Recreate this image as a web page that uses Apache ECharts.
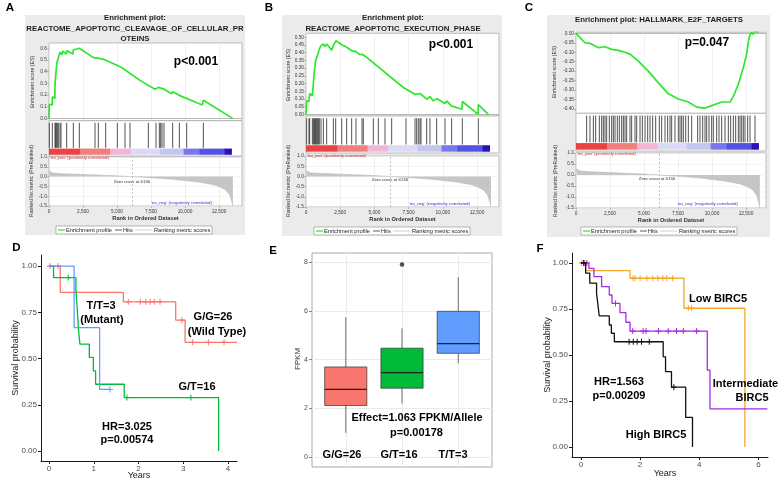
<!DOCTYPE html>
<html>
<head>
<meta charset="utf-8">
<script src="https://cdn.jsdelivr.net/npm/echarts@6.0.0/dist/echarts.min.js"></script>
<style>
html,body{margin:0;padding:0;background:#ffffff;}
#chart{width:778px;height:480px;}
</style>
</head>
<body>
<div id="chart"></div>
<script>
// ================= DATA =================
// --- GSEA (panels A, B, C) ---
const rankTicks = [0, 2500, 5000, 7500, 10000, 12500];
const rankedTicks = [-1.5, -1.0, -0.5, 0, 0.5, 1.0];
const esTicksA = [0, 0.1, 0.2, 0.3, 0.4, 0.5, 0.6];
const esTicksB = [0, 0.05, 0.10, 0.15, 0.20, 0.25, 0.30, 0.35, 0.40, 0.45, 0.50];
const esTicksC = [0, -0.05, -0.10, -0.15, -0.20, -0.25, -0.30, -0.35, -0.40];

const titleA = ['Enrichment plot:', 'REACTOME_APOPTOTIC_CLEAVAGE_OF_CELLULAR_PR', 'OTEINS'];
const titleB = ['Enrichment plot:', 'REACTOME_APOPTOTIC_EXECUTION_PHASE'];
const titleC = ['Enrichment plot: HALLMARK_E2F_TARGETS'];
const pValA = 'p<0.001';
const pValB = 'p<0.001';
const pValC = 'p=0.047';

const esA = [[0,0],[25,0.12],[240,0.115],[245,0.185],[435,0.17],[441,0.29],[515,0.40],[590,0.48],[700,0.49],[809,0.565],[960,0.545],[1000,0.575],[1280,0.55],[1299,0.58],[1760,0.55],[1789,0.585],[2230,0.60],[3260,0.52],[3382,0.53],[3600,0.515],[3627,0.52],[4150,0.50],[4240,0.51],[5340,0.435],[6690,0.325],[7790,0.25],[8040,0.265],[8460,0.25],[9020,0.21],[9093,0.228],[9580,0.197],[9700,0.21],[11270,0.115],[11348,0.155],[13500,0]];
const hitsA = [25,245,441,490,539,613,686,809,882,1299,1789,2230,3382,3627,4167,5025,5588,5956,7304,7868,8113,8211,8309,8456,9093,9583,10122,11348];

const esB = [[0,0],[49,0.087],[219,0.083],[268,0.135],[463,0.12],[536,0.196],[609,0.28],[707,0.35],[853,0.387],[975,0.424],[1097,0.446],[1267,0.456],[1389,0.44],[1511,0.456],[1877,0.417],[1998,0.446],[2193,0.478],[2607,0.452],[2973,0.435],[3338,0.413],[3655,0.407],[3947,0.387],[4094,0.39],[4435,0.37],[7115,0.174],[7968,0.13],[8333,0.135],[8821,0.098],[9064,0.115],[9308,0.087],[9552,0.102],[10161,0.07],[10283,0.087],[10620,0.055],[10648,0.065],[11400,0.033],[11428,0.083],[12580,0.0],[12597,0.063],[13330,0]];
const hitsB = [49,219,268,463,536,609,658,707,780,853,902,975,1097,1267,1511,1998,2169,2607,2973,3338,3655,4094,4191,4922,5288,5775,6262,7310,7968,8090,8211,8333,8406,8821,9064,9552,10161,10648,11428,12597];

const esC = [[0,0],[294,-0.023],[662,-0.05],[784,-0.04],[1029,-0.053],[1642,-0.076],[2132,-0.071],[2623,-0.085],[3113,-0.09],[3603,-0.1],[3971,-0.11],[4583,-0.147],[5319,-0.2],[6054,-0.262],[6789,-0.32],[7524,-0.347],[8260,-0.363],[8873,-0.39],[9485,-0.395],[9975,-0.382],[10711,-0.363],[11324,-0.363],[11569,-0.333],[11936,-0.27],[12304,-0.18],[12549,-0.11],[12721,-0.023],[12868,0.004],[13040,-0.005],[13162,0.016],[13358,0.004]];
const hitsC = [784,1029,1275,1446,1716,1887,2010,2132,2255,2451,2623,2745,2868,3039,3186,3358,3480,3603,3725,3971,4093,4338,4461,4706,4877,5074,5270,5441,5637,5858,6127,6299,6544,6740,6912,7034,7279,7524,7647,7770,7892,8064,8260,8505,8946,9118,9314,9485,9608,9779,9975,10098,10343,10515,10711,10956,11201,11373,11569,11740,11936,12059,12181,12304,12426,12623,12794,13162];

const rankedMetric = [[0,0.28],[50,0.22],[300,0.18],[1000,0.15],[2500,0.11],[4000,0.07],[5000,0.04],[6156,0],[7500,-0.06],[9000,-0.13],[10000,-0.2],[11000,-0.28],[12000,-0.4],[12500,-0.5],[13000,-0.68],[13300,-0.95],[13450,-1.3],[13520,-1.5]];
const zeroCross = 6156;
const colorBarEdges = [0, 2300, 4500, 6000, 8150, 9900, 11050, 12900, 13420];

// --- Kaplan-Meier D ---
const kmYTicks = [0, 0.25, 0.5, 0.75, 1];
const dXTicks = [0, 1, 2, 3, 4];
const kmD_GG = [[0,1],[0.25,0.858],[1.66,0.807],[2.83,0.708],[3.04,0.588],[4.2,0.588]];
const kmD_GT = [[0,1],[0.1,0.9375],[0.6,0.87],[0.62,0.80],[0.64,0.73],[0.66,0.65],[0.69,0.578],[0.9,0.506],[0.99,0.433],[1.04,0.361],[1.68,0.289],[3.79,0]];
const kmD_TT = [[0,1],[0.56,0.667],[1.13,0.333],[1.36,0.333]];
const censD_GG = [[0.02,1],[0.2,1],[1.77,0.807],[2.04,0.807],[2.16,0.807],[2.26,0.807],[2.35,0.807],[2.48,0.807],[2.97,0.708],[3.21,0.588],[3.56,0.588],[3.91,0.588]];
const censD_GT = [[0.43,0.9375],[1.74,0.289],[3.17,0.289]];
const censD_TT = [[1.36,0.333]];
const labelsD = ['T/T=3', '(Mutant)', 'G/G=26', '(Wild Type)', 'G/T=16', 'HR=3.025', 'p=0.00574'];

// --- Boxplot E ---
const boxCats = ['G/G=26', 'G/T=16', 'T/T=3'];
const boxLow = [1.0, 2.2, 3.85];
const boxQ1 = [2.12, 2.83, 4.26];
const boxMed = [2.78, 3.47, 4.66];
const boxQ3 = [3.70, 4.47, 5.98];
const boxHigh = [5.74, 5.28, 7.38];
const boxOutliers = [[2, 7.9]];
const eYTicks = [0, 2, 4, 6, 8];
const labelsE = ['Effect=1.063 FPKM/Allele', 'p=0.00178'];

// --- Kaplan-Meier F ---
const fXTicks = [0, 2, 4, 6];
const kmF_Low = [[0,1],[0.16,0.958],[1.66,0.917],[3.48,0.754],[5.54,0]];
const kmF_Int = [[0,1],[0.27,0.97],[0.44,0.926],[0.7,0.871],[0.96,0.826],[1.05,0.78],[1.32,0.73],[1.52,0.678],[1.66,0.63],[4.27,0.418],[4.36,0.207],[6.3,0.207]];
const kmF_High = [[0,1],[0.16,0.945],[0.3,0.89],[0.53,0.835],[0.57,0.78],[0.62,0.712],[0.96,0.663],[1.03,0.618],[1.13,0.572],[2.78,0.49],[2.86,0.41],[3.06,0.325],[3.54,0.161],[3.77,0]];
const censF_Low = [[0.03,1],[0.1,1],[1.76,0.917],[1.83,0.917],[2.0,0.917],[2.23,0.917],[2.43,0.917],[2.6,0.917],[2.77,0.917],[2.9,0.917],[3.1,0.917],[3.63,0.754],[3.74,0.754]];
const censF_Int = [[0.1,1],[0.2,1],[1.17,0.78],[1.75,0.63],[2.1,0.63],[2.2,0.63],[2.62,0.63],[2.95,0.63],[3.23,0.63],[3.46,0.63],[3.91,0.63]];
const censF_High = [[0.1,1],[1.63,0.572],[1.77,0.572],[1.9,0.572],[2.05,0.572],[2.31,0.572],[3.14,0.325]];
const labelsF = ['Low BIRC5', 'Intermediate', 'BIRC5', 'High BIRC5', 'HR=1.563', 'p=0.00209'];

// ================= STYLES / LAYOUT =================
const FONT = "'Liberation Sans', Arial, sans-serif";
const colorBarColors = ['#ec4242','#f17d7d','#f3b7d5','#dadaf7','#c5c5f2','#7878ee','#5252e3','#2512bb'];
const colD = ['#F8766D', '#00BA38', '#619CFF'];
const colE = ['#F8766D', '#00BA38', '#619CFF'];
const colF = ['#F5A623', '#A52AE8', '#111111'];

const LAY = {
  A: {bg:[25,15,220,220], letter:[10,8], tcx:135, tys:[18,29,39], p:[196,62], left:49, width:193, xMax:14190,
      esTop:43, esH:77.7, yMin:-0.02, yMax:0.645, hitsH:35.3, rkTop:157, rkH:49,
      esName:[33,82], rkName:[32,181], xName:[145.5,218], legend:[56,226], naPos:[50,157.5], naNeg:[212,203], zc:[132,182]},
  B: {bg:[282,15,220,221], letter:[269,8], tcx:393, tys:[17.5,29], p:[451,45], left:306, width:193, xMax:14108,
      esTop:33.3, esH:82.7, yMin:-0.011, yMax:0.526, hitsH:37, rkTop:156, rkH:51,
      esName:[289,75], rkName:[289,181], xName:[402.5,219], legend:[314,227], naPos:[307,156], naNeg:[470,204], zc:[390,180]},
  C: {bg:[547,15,223,222], letter:[529,8], tcx:659, tys:[20], p:[707,43], left:576, width:190, xMax:13970,
      esTop:32.3, esH:81, yMin:-0.4227, yMax:0.0053, hitsH:37.7, rkTop:153, rkH:55,
      esName:[555,72], rkName:[556,181], xName:[671,220], legend:[581,227], naPos:[577,153.5], naNeg:[738,204], zc:[657,179]}
};

const G = [];
function T(x, y, text, size, o) {
  o = o || {};
  G.push({type:'text', x:x, y:y, z:100, silent:true, rotation:o.rot || 0,
    style:{text:text, fontFamily:FONT, fontSize:size, fontWeight:o.bold ? 'bold' : 'normal',
      fill:o.color || '#000', textAlign:o.align || 'center', align:o.align || 'center',
      textVerticalAlign:'middle', verticalAlign:'middle'}});
}
function R(x, y, w, h, fill, stroke, lw, z) {
  G.push({type:'rect', z:z, silent:true, shape:{x:x, y:y, width:w, height:h},
    style:{fill:fill, stroke:stroke || null, lineWidth:lw || 0}});
}
function L(x1, y1, x2, y2, stroke, lw) {
  G.push({type:'line', z:101, silent:true, shape:{x1:x1, y1:y1, x2:x2, y2:y2}, style:{stroke:stroke, lineWidth:lw}});
}

const option = {animation:false, backgroundColor:'#ffffff', grid:[], xAxis:[], yAxis:[], series:[], graphic:{elements:G}};
function addGrid(g, xa, ya) {
  const i = option.grid.length;
  option.grid.push(g);
  option.xAxis.push(Object.assign({gridIndex:i}, xa));
  option.yAxis.push(Object.assign({gridIndex:i}, ya));
  return i;
}
const tiny = {fontSize:4.8, color:'#3a3a3a', fontFamily:FONT};
const tickLS = {color:'#8a8a8a', width:0.5};

function buildGsea(P, letter, title, pText, es, hits, esTicks, dec) {
  R(P.bg[0], P.bg[1], P.bg[2], P.bg[3], '#ebebeb', null, 0, -50);
  T(P.letter[0], P.letter[1], letter, 11.5, {bold:true});
  title.forEach((t, i) => T(P.tcx, P.tys[i], t, 7.8, {bold:true, color:'#1e1e1e'}));
  T(P.p[0], P.p[1], pText, 12, {bold:true});
  const border = {show:true, backgroundColor:'#ffffff', borderColor:'#a3a3a3', borderWidth:0.7};
  // ES plot
  const gE = addGrid(Object.assign({left:P.left, top:P.esTop, width:P.width, height:P.esH}, border),
    {type:'value', min:0, max:P.xMax, axisLine:{show:false, onZero:false}, axisTick:{show:false, customValues:rankTicks},
     axisLabel:{show:false}, splitLine:{show:true, lineStyle:{color:'#e6e6e6', width:0.6}}},
    {type:'value', min:P.yMin, max:P.yMax, axisLine:{show:false, onZero:false},
     axisTick:{show:true, customValues:esTicks, length:2, lineStyle:tickLS},
     axisLabel:Object.assign({customValues:esTicks, formatter:v => v.toFixed(dec), margin:2}, tiny),
     splitLine:{show:false}});
  option.series.push({type:'line', xAxisIndex:gE, yAxisIndex:gE, data:es, showSymbol:false, symbol:'none', silent:true, z:5,
    lineStyle:{color:'#2fe52f', width:1.7},
    markLine:{silent:true, symbol:'none', label:{show:false}, lineStyle:{color:'#8a8a8a', width:0.6, type:'solid'}, data:[{yAxis:0}]}});
  // Hits + colour bar
  const gH = addGrid(Object.assign({left:P.left, top:P.esTop + P.esH, width:P.width, height:P.hitsH}, border),
    {type:'value', min:0, max:P.xMax, show:false},
    {type:'value', min:0, max:1, show:false});
  option.series.push({type:'custom', xAxisIndex:gH, yAxisIndex:gH, silent:true, z:5,
    data:hits.map(r => [r, 0.5]),
    renderItem:(p, api) => {
      const a = api.coord([api.value(0), 0.94]);
      const b = api.coord([api.value(0), 0.23]);
      return {type:'line', shape:{x1:a[0], y1:a[1], x2:b[0], y2:b[1]}, style:{stroke:'#262626', lineWidth:0.8}};
    }});
  option.series.push({type:'custom', xAxisIndex:gH, yAxisIndex:gH, silent:true, z:4,
    data:colorBarColors.map((c, i) => [colorBarEdges[i], 0.5, colorBarEdges[i + 1], i]),
    encode:{x:[0, 2], y:1},
    renderItem:(p, api) => {
      const a = api.coord([api.value(0), 0.21]);
      const b = api.coord([api.value(2), 0.035]);
      return {type:'rect', shape:{x:a[0], y:a[1], width:b[0] - a[0] + 0.4, height:b[1] - a[1]},
        style:{fill:colorBarColors[api.value(3)]}};
    }});
  // Ranked list metric
  const gR = addGrid(Object.assign({left:P.left, top:P.rkTop, width:P.width, height:P.rkH}, border),
    {type:'value', min:0, max:P.xMax, axisLine:{show:false, onZero:false},
     axisTick:{show:true, customValues:rankTicks, length:2, lineStyle:tickLS},
     axisLabel:Object.assign({customValues:rankTicks, formatter:v => v.toLocaleString('en-US'), margin:3}, tiny),
     splitLine:{show:true, lineStyle:{color:'#e6e6e6', width:0.6}}},
    {type:'value', min:-1.5, max:1.0, axisLine:{show:false, onZero:false},
     axisTick:{show:true, customValues:rankedTicks, length:2, lineStyle:tickLS},
     axisLabel:Object.assign({customValues:rankedTicks, formatter:v => v.toFixed(1), margin:2}, tiny),
     splitLine:{show:true, lineStyle:{color:'#eeeeee', width:0.6}}});
  option.series.push({type:'line', xAxisIndex:gR, yAxisIndex:gR, data:rankedMetric, showSymbol:false, symbol:'none', silent:true, z:5,
    lineStyle:{color:'#b4b4b4', width:0.5}, areaStyle:{color:'#c6c6c6', opacity:1},
    markLine:{silent:true, symbol:'none', label:{show:false}, lineStyle:{color:'#9a9a9a', width:0.6, type:[2, 2]}, data:[{xAxis:zeroCross}]}});
  // texts
  T(P.esName[0], P.esName[1], 'Enrichment score (ES)', 5.2, {rot:Math.PI / 2, color:'#333'});
  T(P.rkName[0], P.rkName[1], 'Ranked list metric (PreRanked)', 5.2, {rot:Math.PI / 2, color:'#333'});
  T(P.xName[0], P.xName[1], 'Rank in Ordered Dataset', 5.7, {bold:true, color:'#333'});
  T(P.naPos[0], P.naPos[1], "'na_pos' (positively correlated)", 4.4, {align:'left', color:'#e02828'});
  T(P.naNeg[0], P.naNeg[1], "'na_neg' (negatively correlated)", 4.4, {align:'right', color:'#2a2ae0'});
  T(P.zc[0], P.zc[1], 'Zero cross at ' + zeroCross, 4.4, {color:'#333'});
  // legend
  const lx = P.legend[0], ly = P.legend[1];
  R(lx, ly, 156, 8, '#ffffff', '#8a8a8a', 0.6, 99);
  L(lx + 2, ly + 4, lx + 9, ly + 4, '#2fe52f', 1.2);
  T(lx + 10, ly + 4.2, 'Enrichment profile', 5.7, {align:'left', color:'#222'});
  L(lx + 59, ly + 4, lx + 66, ly + 4, '#333333', 0.8);
  T(lx + 67, ly + 4.2, 'Hits', 5.7, {align:'left', color:'#222'});
  L(lx + 79, ly + 4, lx + 96, ly + 4, '#d0d0d0', 1);
  T(lx + 98, ly + 4.2, 'Ranking metric scores', 5.7, {align:'left', color:'#222'});
}

buildGsea(LAY.A, 'A', titleA, pValA, esA, hitsA, esTicksA, 1);
buildGsea(LAY.B, 'B', titleB, pValB, esB, hitsB, esTicksB, 2);
buildGsea(LAY.C, 'C', titleC, pValC, esC, hitsC, esTicksC, 2);

// ---------- Kaplan-Meier builder ----------
function plusRenderer(color) {
  return (p, api) => {
    const c = api.coord([api.value(0), api.value(1)]);
    const s = 3;
    return {type:'group', children:[
      {type:'line', shape:{x1:c[0] - s, y1:c[1], x2:c[0] + s, y2:c[1]}, style:{stroke:color, lineWidth:1}},
      {type:'line', shape:{x1:c[0], y1:c[1] - s, x2:c[0], y2:c[1] + s}, style:{stroke:color, lineWidth:1}}
    ]};
  };
}
function buildKm(P, curves, censors, colors, xTicks) {
  const axisLS = {color:'#1a1a1a', width:1};
  const lbl = {fontSize:8, color:'#4d4d4d', fontFamily:FONT};
  const g = addGrid({left:P.left, top:P.top, width:P.width, height:P.height, show:false},
    {type:'value', min:P.xMin, max:P.xMax, axisLine:{show:true, onZero:false, lineStyle:axisLS},
     axisTick:{show:true, customValues:xTicks, length:3, lineStyle:axisLS},
     axisLabel:Object.assign({customValues:xTicks, margin:4}, lbl), splitLine:{show:false}},
    {type:'value', min:P.yMin, max:P.yMax, axisLine:{show:true, onZero:false, lineStyle:axisLS},
     axisTick:{show:true, customValues:kmYTicks, length:3, lineStyle:axisLS},
     axisLabel:Object.assign({customValues:kmYTicks, formatter:v => v.toFixed(2), margin:4}, lbl), splitLine:{show:false}});
  curves.forEach((c, i) => option.series.push({type:'line', xAxisIndex:g, yAxisIndex:g, data:c, step:'end',
    showSymbol:false, symbol:'none', silent:true, z:5 + i, lineStyle:{color:colors[i], width:1.3}}));
  censors.forEach((c, i) => option.series.push({type:'custom', xAxisIndex:g, yAxisIndex:g, data:c, silent:true,
    z:5 + i, renderItem:plusRenderer(colors[i])}));
}

// ---------- D ----------
buildKm({left:41, top:255, width:196, height:206, xMin:-0.18, xMax:4.2, yMin:-0.054, yMax:1.06},
  [kmD_GG, kmD_GT, kmD_TT], [censD_GG, censD_GT, censD_TT], colD, dXTicks);
T(16.5, 248, 'D', 11.5, {bold:true});
T(16, 358, 'Survival probability', 9, {rot:Math.PI / 2, color:'#222'});
T(139, 475.5, 'Years', 9, {color:'#222'});
T(101, 306, labelsD[0], 11, {bold:true});
T(102, 319.5, labelsD[1], 11, {bold:true});
T(213, 317, labelsD[2], 11, {bold:true});
T(217, 331.5, labelsD[3], 11, {bold:true});
T(197, 387, labelsD[4], 11, {bold:true});
T(127, 427, labelsD[5], 11, {bold:true});
T(127, 440, labelsD[6], 11, {bold:true});

// ---------- E ----------
const gB = addGrid({left:312, top:253, width:180, height:214, show:true, backgroundColor:'#ffffff', borderColor:'#aaaaaa', borderWidth:1},
  {type:'value', min:0.4, max:3.6, axisLine:{show:false, onZero:false},
   axisTick:{show:false, customValues:[1, 2, 3]}, axisLabel:{show:false},
   splitLine:{show:true, lineStyle:{color:'#ebebeb', width:1}}},
  {type:'value', min:-0.4, max:8.37, axisLine:{show:false, onZero:false},
   axisTick:{show:true, customValues:eYTicks, length:3, lineStyle:{color:'#555', width:0.7}},
   axisLabel:{customValues:eYTicks, fontSize:7, color:'#4d4d4d', margin:4, fontFamily:FONT},
   splitLine:{show:true, lineStyle:{color:'#ebebeb', width:1}}});
option.series.push({type:'custom', xAxisIndex:gB, yAxisIndex:gB, silent:true, z:5,
  data:boxCats.map((c, i) => [i + 1, boxLow[i], boxQ1[i], boxMed[i], boxQ3[i], boxHigh[i], i]),
  encode:{x:0, y:[1, 2, 3, 4, 5]},
  renderItem:(p, api) => {
    const x = api.value(0);
    const w = api.size([0.75, 0])[0];
    const lo = api.coord([x, api.value(1)]);
    const q1 = api.coord([x, api.value(2)]);
    const md = api.coord([x, api.value(3)]);
    const q3 = api.coord([x, api.value(4)]);
    const hi = api.coord([x, api.value(5)]);
    const col = colE[api.value(6)];
    return {type:'group', children:[
      {type:'line', shape:{x1:lo[0], y1:lo[1], x2:q1[0], y2:q1[1]}, style:{stroke:'#333', lineWidth:0.7}},
      {type:'line', shape:{x1:q3[0], y1:q3[1], x2:hi[0], y2:hi[1]}, style:{stroke:'#333', lineWidth:0.7}},
      {type:'rect', shape:{x:q1[0] - w / 2, y:q3[1], width:w, height:q1[1] - q3[1]}, style:{fill:col, stroke:'#333', lineWidth:0.7}},
      {type:'line', shape:{x1:md[0] - w / 2, y1:md[1], x2:md[0] + w / 2, y2:md[1]}, style:{stroke:'#222', lineWidth:1.2}}
    ]};
  }});
option.series.push({type:'scatter', xAxisIndex:gB, yAxisIndex:gB, data:boxOutliers, symbolSize:4.5, silent:true, z:6,
  itemStyle:{color:'#222'}});
T(273, 251, 'E', 11.5, {bold:true});
T(298, 359, 'FPKM', 8, {rot:Math.PI / 2, color:'#333'});
T(417, 418, labelsE[0], 11, {bold:true});
T(416.5, 432.5, labelsE[1], 11, {bold:true});
T(342, 454.5, boxCats[0], 11, {bold:true});
T(399, 454.5, boxCats[1], 11, {bold:true});
T(453, 454.5, boxCats[2], 11, {bold:true});

// ---------- F ----------
buildKm({left:572, top:253, width:196, height:204, xMin:-0.3, xMax:6.32, yMin:-0.054, yMax:1.054},
  [kmF_Low, kmF_Int, kmF_High], [censF_Low, censF_Int, censF_High], colF, fXTicks);
T(540, 248.5, 'F', 11.5, {bold:true});
T(548, 355, 'Survival probability', 9, {rot:Math.PI / 2, color:'#222'});
T(665, 473.5, 'Years', 9, {color:'#222'});
T(718, 299, labelsF[0], 11, {bold:true});
T(745.5, 384, labelsF[1], 11, {bold:true});
T(752, 397.5, labelsF[2], 11, {bold:true});
T(656, 435, labelsF[3], 11, {bold:true});
T(619, 382, labelsF[4], 11, {bold:true});
T(619, 396, labelsF[5], 11, {bold:true});

const chart = echarts.init(document.getElementById('chart'), null, {renderer:'canvas'});
chart.setOption(option);
</script>
</body>
</html>
